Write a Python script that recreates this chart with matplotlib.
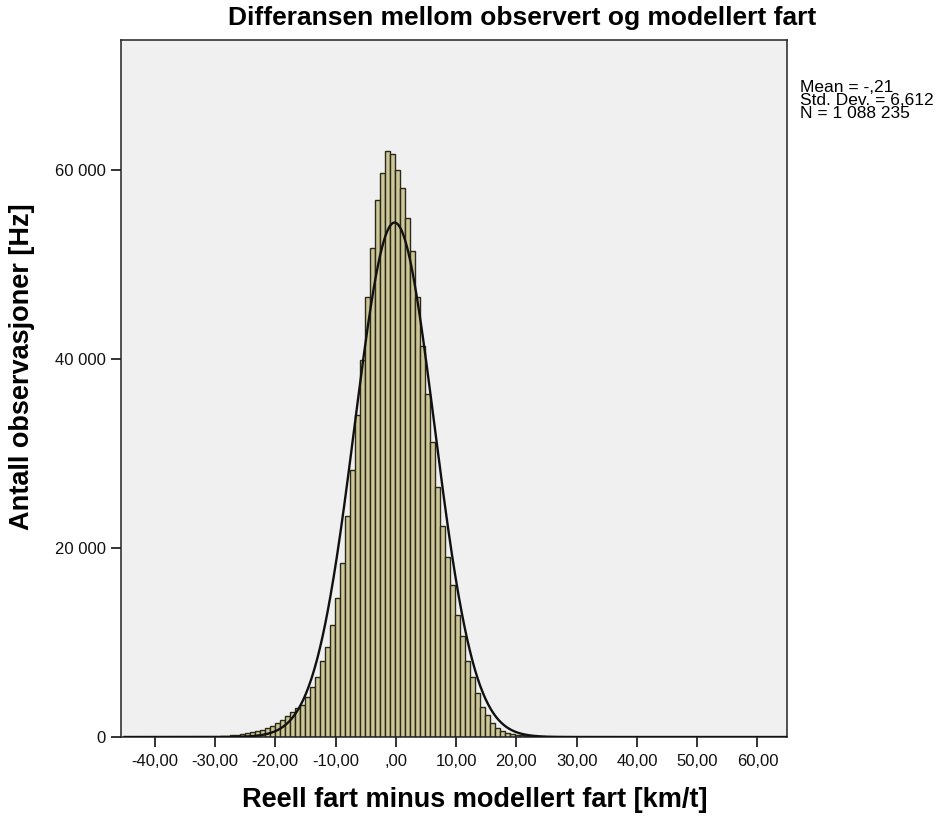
import numpy as np
import matplotlib
matplotlib.use("Agg")
import matplotlib.pyplot as plt

plt.rcParams['font.family'] = ['Liberation Sans', 'DejaVu Sans']

# ---- data ----
bin_start = -30.88
bin_width = 0.829
counts = [30, 50, 80, 120, 170, 230, 300, 400, 500, 650, 750, 900, 1150, 1450,
          1850, 2250, 2600, 3100, 3400,
          4200, 5300, 6400, 8000, 9500, 11900, 14700, 18400, 23400, 28300,
          34100, 39900, 46600, 51700, 56800, 59700, 62000, 61700, 60000,
          58100, 54900, 51400, 46600, 41400, 36300, 31200, 26400, 22300,
          19000, 16100, 12900, 10700,
          8000, 6400, 4700, 3200, 2300, 1500, 1000, 650, 450, 320, 230, 160,
          110, 80, 55, 40, 28, 20, 14, 10]
mean_val = -0.21
sd_val = 6.612
n_val = 1088235
x_ticks = [-40, -30, -20, -10, 0, 10, 20, 30, 40, 50, 60]
x_tick_labels = ["-40,00", "-30,00", "-20,00", "-10,00", ",00", "10,00",
                 "20,00", "30,00", "40,00", "50,00", "60,00"]
y_ticks = [0, 20000, 40000, 60000]
y_tick_labels = ["0", "20 000", "40 000", "60 000"]
title = "Differansen mellom observert og modellert fart"
xlabel = "Reell fart minus modellert fart [km/t]"
ylabel = "Antall observasjoner [Hz]"
stats_lines = ["Mean = -,21", "Std. Dev. = 6,612", "N = 1 088 235"]

# ---- figure ----
W, H = 944, 816
fig = plt.figure(figsize=(W / 100, H / 100), dpi=100)
fig.patch.set_facecolor("white")
ax = fig.add_axes([121 / W, 1 - 737 / H, (787 - 121) / W, (737 - 40) / H])
ax.set_facecolor("#f0f0f0")

lefts = bin_start + bin_width * np.arange(len(counts))
ax.bar(lefts, counts, width=bin_width, align="edge",
       color="#cdc699", edgecolor="#2a2918", linewidth=1.0, zorder=2)

xs = np.linspace(-45, 65, 1000)
curve = n_val * bin_width / (sd_val * np.sqrt(2 * np.pi)) * np.exp(-0.5 * ((xs - mean_val) / sd_val) ** 2)
ax.plot(xs, curve, color="#111111", linewidth=1.7, zorder=3)

ax.set_xlim(-45.6, 64.9)
ax.set_ylim(0, 73750)
ax.set_xticks(x_ticks)
ax.set_xticklabels(x_tick_labels)
ax.set_yticks(y_ticks)
ax.set_yticklabels(y_tick_labels)
ax.tick_params(axis="both", direction="out", length=7, width=1.4,
               color="#333333", labelsize=12, labelcolor="#111111")
ax.tick_params(axis="x", pad=5)
ax.tick_params(axis="y", pad=4)
for s in ax.spines.values():
    s.set_color("#222222")
    s.set_linewidth(1.1)

fig.text(522 / W, 1 - 18 / H, title, ha="center", va="center",
         fontsize=19, fontweight="bold")
fig.text(475 / W, 1 - 800 / H, xlabel, ha="center", va="center",
         fontsize=19.5, fontweight="bold")
fig.text(22 / W, 1 - 367 / H, ylabel, ha="center", va="center",
         rotation=90, fontsize=19.5, fontweight="bold")
for i, line in enumerate(stats_lines):
    fig.text(800 / W, 1 - (87 + 13.5 * i) / H, line, ha="left", va="center",
             fontsize=12.5)

fig.savefig("out.png", dpi=100)
